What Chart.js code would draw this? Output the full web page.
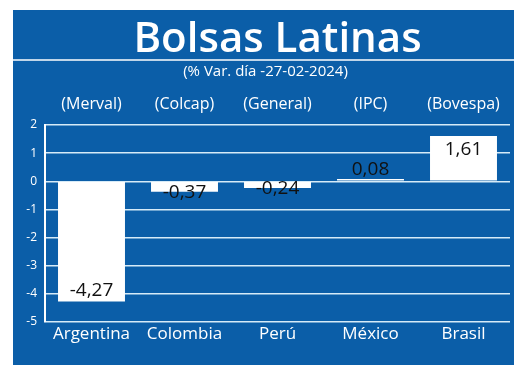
<!DOCTYPE html>
<html>
<head>
<meta charset="utf-8">
<script src="https://cdn.jsdelivr.net/npm/chart.js@4"></script>
<style>
  html, body { margin: 0; padding: 0; background: #ffffff; }
  #panel { position: absolute; left: 13px; top: 10px; width: 501px; height: 355px; background: #0b5ea8; }
</style>
</head>
<body>
<div id="panel"><canvas id="myChart" width="501" height="355"></canvas></div>
<script>
// data
var countries = ["Argentina", "Colombia", "Perú", "México", "Brasil"];
var indexes = ["(Merval)", "(Colcap)", "(General)", "(IPC)", "(Bovespa)"];
var variation = [-4.27, -0.37, -0.24, 0.08, 1.61];
var yTicks = [2, 1, 0, -1, -2, -3, -4, -5];

var titleText = "Bolsas Latinas";
var subtitleText = "(% Var. día -27-02-2024)";

// title, subtitle and the line under the title
var headerPlugin = {
    id: "header",
    beforeDraw: function(chart) {
        var ctx = chart.ctx;
        var mid = chart.chartArea.left + (chart.chartArea.right - chart.chartArea.left) / 2;
        ctx.save();
        ctx.fillStyle = "#ffffff";
        ctx.textAlign = "center";
        ctx.textBaseline = "alphabetic";
        ctx.font = "600 42px 'Open Sans'";
        ctx.fillText(titleText, mid, 42);
        ctx.strokeStyle = "#ffffff";
        ctx.lineWidth = 1.5;
        ctx.beginPath();
        ctx.moveTo(0, 50);
        ctx.lineTo(chart.width, 50);
        ctx.stroke();
        ctx.font = "15px 'Open Sans'";
        ctx.textBaseline = "middle";
        ctx.fillText(subtitleText, mid - 12, 62);
        ctx.restore();
    }
};

// value labels on the bars
var valuePlugin = {
    id: "values",
    afterDatasetsDraw: function(chart) {
        var ctx = chart.ctx;
        var meta = chart.getDatasetMeta(0);
        ctx.save();
        ctx.fillStyle = "#111111";
        ctx.font = "500 19px 'Open Sans'";
        ctx.textAlign = "center";
        ctx.textBaseline = "middle";
        for (var i = 0; i < meta.data.length; i++) {
            var bar = meta.data[i];
            var v = variation[i];
            var len = Math.abs(bar.base - bar.y);
            var y;
            if (len > 25) {
                y = v < 0 ? bar.y - 11 : bar.y + 14;
            } else {
                y = v < 0 ? bar.y + 1 : bar.y - 9;
            }
            ctx.fillText(v.toFixed(2).replace(".", ","), bar.x, y);
        }
        ctx.restore();
    }
};

new Chart(document.getElementById("myChart"), {
    type: "bar",
    data: {
        labels: countries,
        datasets: [{
            data: variation,
            backgroundColor: "#ffffff",
            borderWidth: 0,
            barPercentage: 0.72,
            categoryPercentage: 1
        }]
    },
    options: {
        responsive: false,
        animation: false,
        layout: { padding: { top: 80, right: 4, left: 0, bottom: 0 } },
        plugins: { legend: { display: false }, tooltip: { enabled: false } },
        scales: {
            x: {
                position: "bottom",
                grid: { display: false, drawTicks: false },
                border: { display: false },
                ticks: { color: "#ffffff", font: { family: "Open Sans", size: 17 }, padding: 2 },
                afterFit: function(s) { s.height = 43; }
            },
            x2: {
                type: "category",
                position: "top",
                labels: indexes,
                grid: { display: false, drawTicks: false },
                border: { display: false },
                ticks: { color: "#ffffff", font: { family: "Open Sans", size: 16 }, padding: 11 },
                afterFit: function(s) { s.height = 35; }
            },
            y: {
                min: -5,
                max: 2,
                afterBuildTicks: function(s) { s.ticks = yTicks.map(function(v) { return { value: v }; }); },
                grid: { color: "#d6ebf8", lineWidth: 1.5, drawTicks: false },
                border: { color: "#ffffff", width: 2 },
                ticks: { color: "#ffffff", font: { family: "Open Sans", size: 12, weight: "500" }, padding: 8 },
                afterFit: function(s) { s.width = 32; }
            }
        }
    },
    plugins: [headerPlugin, valuePlugin]
});
</script>
</body>
</html>
